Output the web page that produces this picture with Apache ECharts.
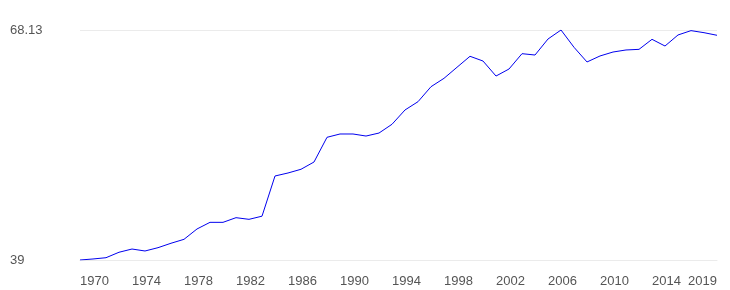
<!DOCTYPE html>
<html>
<head>
<meta charset="utf-8">
<script src="https://cdn.jsdelivr.net/npm/echarts@6/dist/echarts.min.js"></script>
<style>
  html, body { margin: 0; padding: 0; background: #fff; }
  #main { width: 730px; height: 290px; }
</style>
</head>
<body>
<div id="main"></div>
<script>
// 年份
var years = [];
for (var y = 1970; y <= 2019; y++) years.push(String(y));

// 数值
var values = [
  39.00, 39.13, 39.29, 39.98, 40.39, 40.14, 40.56, 41.12, 41.62, 42.93,
  43.77, 43.77, 44.36, 44.15, 44.55, 49.64, 50.02, 50.49, 51.41, 54.54,
  54.96, 54.96, 54.70, 55.08, 56.19, 58.00, 59.05, 60.95, 62.01, 63.41,
  64.80, 64.20, 62.30, 63.19, 65.13, 64.96, 66.99, 68.13, 65.94, 64.08,
  64.84, 65.34, 65.60, 65.68, 66.95, 66.10, 67.50, 68.05, 67.79, 67.46
];

// y轴刻度
var yMin = 39;
var yMax = 68.13;

var myChart = echarts.init(document.getElementById('main'));

var option = {
  animation: false,
  grid: {
    left: 80,
    right: 13,
    top: 30,
    bottom: 30,
    containLabel: false
  },
  xAxis: {
    type: 'category',
    boundaryGap: false,
    data: years,
    axisLine: { show: true, lineStyle: { color: '#ebebeb' } },
    axisTick: { show: false },
    axisLabel: {
      interval: function (index) {
        return (index % 4 === 0 && index <= 44) || index === years.length - 1;
      },
      align: 'left',
      alignMaxLabel: 'right',
      margin: 15,
      color: '#555',
      fontSize: 13,
      fontFamily: 'Liberation Sans, Arial, sans-serif'
    }
  },
  yAxis: {
    type: 'value',
    min: yMin,
    max: yMax,
    interval: yMax - yMin,
    axisLine: { show: false },
    axisTick: { show: false },
    splitLine: { lineStyle: { color: '#ebebeb' } },
    axisLabel: {
      align: 'left',
      margin: 70,
      color: '#555',
      fontSize: 13,
      fontFamily: 'Liberation Sans, Arial, sans-serif',
      formatter: function (v) {
        return String(Math.round(v * 100) / 100);
      }
    }
  },
  series: [
    {
      type: 'line',
      data: values,
      symbol: 'none',
      lineStyle: { color: '#0000ee', width: 1 }
    }
  ]
};

myChart.setOption(option);
</script>
</body>
</html>
